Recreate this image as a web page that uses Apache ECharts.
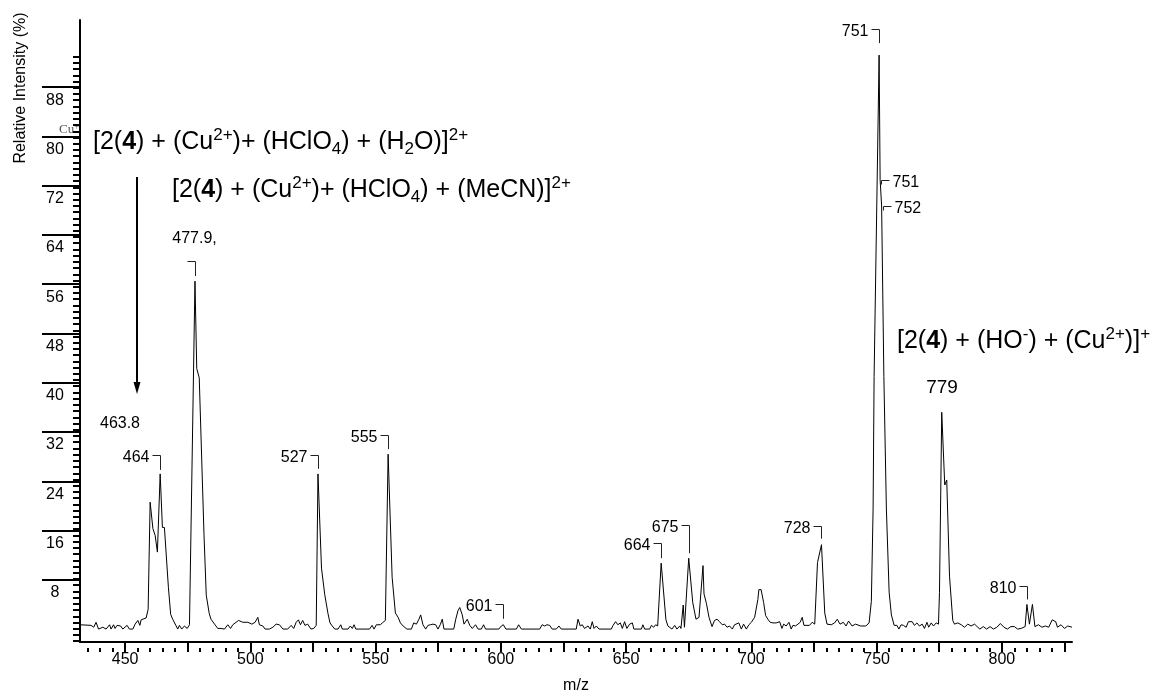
<!DOCTYPE html>
<html>
<head>
<meta charset="utf-8">
<script src="https://cdn.jsdelivr.net/npm/echarts@6/dist/echarts.min.js"></script>
<style>
  html, body { margin: 0; padding: 0; background: #fff; }
  #chart { width: 1155px; height: 699px; }
</style>
</head>
<body>
<div id="chart"></div>
<script>
// ESI mass spectrum: m/z against relative intensity (%)
const spectrum = [
  [432.0,0.7],[436.4,0.6],[437.5,0.3],[438.4,1.1],[439.4,0],[441.1,0.3],[442.4,0],[443.8,0.7],
  [444.4,0],[445.4,0.7],[446.0,0.1],[446.8,0.6],[448.2,0.5],[449.1,0],[450.8,0.6],[451.7,0],
  [453.1,0],[454.0,0.8],[455.1,1.4],[455.9,0.6],[456.4,1.5],[457.1,1.4],[458.4,1.8],[459.2,3.2],
  [460.0,20.6],[461.1,16.3],[462.0,15.2],[462.9,12.5],[464.0,25.2],[464.9,16.5],[465.7,16.5],
  [467.3,6.7],[468.2,2.4],[469.0,1.6],[470.4,0.5],[471.0,0],[471.7,0.6],[472.6,0],[473.7,0.5],
  [474.8,0.1],[475.7,0.7],[476.3,0.6],[477.9,56.5],[478.6,42.3],[479.6,40.8],[481.5,15.3],
  [482.4,5.5],[483.6,2.5],[484.3,1.6],[485.0,1.9],[485.9,0.7],[487.0,0.1],[488.3,0.1],[489.7,0],
  [491.0,0.7],[492.1,0.1],[493.0,0.7],[494.3,1.1],[495.3,1.4],[497.0,1.1],[499.0,1.1],[500.6,0.8],
  [501.9,1.1],[503.0,1.9],[503.6,0.7],[505.0,0.5],[505.9,0],[507.6,0],[509.0,0.3],[510.3,0.8],
  [511.6,0.7],[513.0,0],[514.9,0],[516.3,0.6],[517.3,0.1],[518.3,1.1],[519.2,1.5],[520.0,0.7],
  [520.9,1.4],[521.8,0.6],[522.9,0.8],[524.2,0],[525.3,0.1],[526.3,0.6],[527.0,25.2],[528.4,9.9],
  [529.7,5.6],[531.0,2.5],[531.8,1.0],[532.7,0.5],[533.7,0],[535.0,0],[536.1,0.7],[536.7,0],
  [539.0,0],[539.9,0.5],[540.7,0.1],[541.4,0.7],[542.1,0],[547.6,0],[548.6,0.6],[549.4,0],
  [550.3,0.7],[551.0,1.0],[551.9,0.7],[552.7,1.0],[553.9,1.4],[555.0,28.4],[556.6,8.4],[557.9,2.6],
  [559.0,1.9],[559.9,1.0],[561.0,0.5],[561.6,0.6],[562.5,0],[564.3,0],[565.2,1.0],[566.3,0.8],
  [567.3,1.6],[568.0,2.3],[568.9,0.7],[570.0,0],[570.9,0.6],[571.9,0.7],[572.9,0.8],[574.0,0.7],
  [574.9,0],[575.8,0.7],[576.6,1.6],[577.3,0],[581.2,0],[582.0,1.6],[582.9,3.0],[583.6,3.5],
  [584.6,2.3],[585.3,0.8],[586.0,0.7],[586.6,1.6],[587.6,0.6],[588.6,0.1],[589.9,0.7],[590.9,0],
  [592.2,0],[593.1,0.7],[593.9,0],[599.2,0],[600.2,0.5],[601.0,0.7],[602.0,0],[606.2,0],
  [607.1,0.7],[608.2,0],[615.5,0],[616.5,0.7],[617.5,0.5],[618.4,0.7],[619.5,0.6],[620.5,0],
  [622.1,0],[623.2,0.5],[624.1,0],[630.1,0],[630.8,1.6],[631.7,0.5],[632.5,0.7],[633.4,0.1],
  [634.8,0.5],[635.7,0],[636.5,1.2],[637.2,0.1],[638.1,0.5],[639.2,0],[644.1,0],[644.8,0.6],
  [645.8,1.2],[646.7,0.7],[647.7,1.0],[648.5,0.1],[649.4,1.2],[650.3,0.1],[651.4,0.8],[652.5,1.0],
  [653.1,0],[656.1,0],[656.7,0.7],[657.4,0],[659.4,0],[660.1,0.6],[661.0,0.3],[661.8,0.7],
  [662.6,0.5],[664.0,10.7],[665.9,1.5],[666.7,0.5],[667.4,0.8],[668.3,0],[669.4,0.6],[670.3,0],
  [671.4,0.5],[671.9,0.1],[672.8,3.9],[673.3,0.3],[675.0,11.5],[676.6,4.3],[677.9,1.6],[679.1,1.9],
  [680.7,10.3],[681.1,5.7],[682.1,4.1],[683.1,1.9],[684.3,0.4],[685.3,1.4],[686.3,1.6],[687.3,1.2],
  [688.4,0.7],[689.3,0.8],[690.3,0.3],[691.3,0.5],[692.4,0],[693.3,0.7],[694.0,0.5],[695.0,1.0],
  [696.0,0],[696.9,0.8],[698.0,0],[699.0,0.7],[700.0,1.1],[700.6,1.4],[701.3,1.9],[702.6,4.8],
  [703.0,6.4],[703.9,6.4],[704.9,4.3],[705.7,2.2],[706.6,1.6],[707.5,1.1],[708.6,1.0],[709.9,1.0],
  [710.6,0.7],[711.3,1.2],[712.2,0.1],[712.9,0.8],[713.9,0.5],[715.0,1.1],[715.9,0],[716.6,0.6],
  [717.6,0.5],[718.6,0.8],[719.5,1.1],[720.3,1.9],[721.0,0.6],[723.2,0.6],[724.3,1.1],[725.3,0.8],
  [726.4,10.8],[728.0,13.7],[729.3,2.6],[730.2,0.8],[731.9,0.7],[733.2,1.0],[734.3,1.6],[735.4,0.8],
  [736.7,1.1],[737.8,0.5],[738.8,1.3],[740.2,0.5],[741.6,0.8],[743.6,0.5],[745.7,0.5],[747.0,1.0],
  [747.9,4.5],[748.6,19.5],[749.0,41.0],[751.0,93.2],[751.4,73.0],[752.0,68.7],[752.9,41.0],
  [753.9,19.5],[755.0,6.0],[755.9,2.3],[757.0,0.6],[758.1,0.6],[758.9,0],[759.8,0.7],[760.7,0.6],
  [761.8,0.3],[762.7,1.2],[763.4,1.0],[764.2,1.2],[765.1,0.6],[766.1,1.0],[767.1,0.5],[768.2,0.8],
  [769.1,0.1],[770.1,1.1],[770.8,0.3],[771.8,1.0],[772.7,0.5],[773.8,1.0],[774.7,0.8],[775.1,5.9],
  [776.0,35.2],[777.2,23.4],[778.0,24.2],[779.1,8.6],[780.4,1.4],[781.1,0.8],[782.4,1.0],[783.8,0.7],
  [785.1,0.3],[786.4,0.8],[787.7,0.5],[789.1,0.8],[790.4,0.3],[791.2,0],[792.6,0.4],[793.9,0],
  [795.3,0.4],[796.6,0],[798.0,0.3],[799.4,0.9],[800.8,0.3],[802.2,0],[803.6,0.4],[805.0,0.4],
  [806.3,0],[807.7,0.1],[809.3,0.4],[810.0,4.0],[811.0,0.8],[812.2,4.0],[813.2,0.4],[814.6,0.7],
  [816.0,0.3],[817.4,0.5],[818.7,0.3],[820.1,1.5],[821.5,1.2],[822.2,0.3],[823.6,0.7],[825.0,0.1],
  [826.3,0.5],[828.0,0.3]
];

// labelled peaks (m/z of the labelled point) and decimals shown
const peakLabelMz = [464, 477.9, 527, 555, 601, 664, 675, 728, 751, 751.4, 752, 810];
const peakLabelDecimals = [0, 1, 0, 0, 0, 0, 0, 0, 0, 0, 0, 0];

// axis ticks and labels
const xLabelValues = [450, 500, 550, 600, 650, 700, 750, 800];
const xMajorTicks = [450, 475, 500, 525, 550, 575, 600, 625, 650, 675, 700, 725, 750, 775, 800, 825];
const yLabelValues = [8, 16, 24, 32, 40, 48, 56, 64, 72, 80, 88];

const X_MIN = 432, X_MAX = 828;
const Y_MIN = -2.1, Y_MAX = 98.9;

const xMinorTicks = [];
for (let v = 435; v <= 825; v += 5) xMinorTicks.push(v);
const yMinorTicks = [];
for (let v = -1; v <= 93; v += 1) yMinorTicks.push(v);

// bracket geometry for each peak label
const labelLayout = [
  { side: 'left', stem: 15, gap: 4 },
  { side: 'above', stem: 15, gap: 5, suffix: ',' },
  { side: 'left', stem: 14, gap: 5 },
  { side: 'left', stem: 14, gap: 5 },
  { side: 'left', stem: 15, gap: 6 },
  { side: 'left', stem: 15, gap: 5 },
  { side: 'left', stem: 28, gap: 5 },
  { side: 'left', stem: 13, gap: 6 },
  { side: 'left', stem: 14, gap: 12 },
  { side: 'right' },
  { side: 'right' },
  { side: 'left', stem: 13, gap: 5 }
];

const FONT = '"Liberation Sans", Arial, Helvetica, sans-serif';

function intensityAt(mz) {
  const hit = spectrum.find(d => Math.abs(d[0] - mz) < 1e-6);
  return hit ? hit[1] : 0;
}
const labelData = peakLabelMz.map((mz, i) => [mz, intensityAt(mz), i]);

function renderPeakLabel(params, api) {
  const i = api.value(2);
  const lay = labelLayout[i];
  const p = api.coord([api.value(0), api.value(1)]);
  const x = Math.round(p[0]) + 0.5;
  const txt = peakLabelMz[i].toFixed(peakLabelDecimals[i]) + (lay.suffix || '');
  const lineStyle = { stroke: '#222', lineWidth: 1, fill: null };
  const ts = (t, tx, ty, align) => ({
    text: t, x: tx, y: ty, align: align, verticalAlign: 'middle',
    textAlign: align, textVerticalAlign: 'middle',
    font: '16px ' + FONT, fill: '#000'
  });
  if (lay.side === 'right') {
    const y = Math.round(p[1]) + 0.5;
    return { type: 'group', children: [
      { type: 'polyline', shape: { points: [[x + 1, y + 4], [x + 1, y], [x + 9, y]] }, style: lineStyle },
      { type: 'text', style: ts(txt, x + 12, y + 2, 'left') }
    ]};
  }
  const yb = p[1] - lay.gap;
  const yt = Math.round(yb - lay.stem) + 0.5;
  const children = [
    { type: 'polyline', shape: { points: [[x - 8, yt], [x, yt], [x, yb]] }, style: lineStyle }
  ];
  if (lay.side === 'above') children.push({ type: 'text', style: ts(txt, x - 1, yt - 23, 'center') });
  else children.push({ type: 'text', style: ts(txt, x - 11, yt + 2, 'right') });
  return { type: 'group', children: children };
}

// rich text styles for the ion formulas
const formulaRich = {
  n: { fontSize: 25, fontFamily: FONT, color: '#000', lineHeight: 31 },
  b: { fontSize: 25, fontFamily: FONT, fontWeight: 'bold', color: '#000', lineHeight: 31 },
  sup: { fontSize: 17, fontFamily: FONT, color: '#000', lineHeight: 17, verticalAlign: 'top' },
  sub: { fontSize: 17, fontFamily: FONT, color: '#000', lineHeight: 17, verticalAlign: 'bottom' }
};
const formulaH2O = '{n|[2(}{b|4}{n|) + (Cu}{sup|2+}{n|)+ (HClO}{sub|4}{n|) + (H}{sub|2}{n|O)]}{sup|2+}';
const formulaMeCN = '{n|[2(}{b|4}{n|) + (Cu}{sup|2+}{n|)+ (HClO}{sub|4}{n|) + (MeCN)]}{sup|2+}';
const formulaHO = '{n|[2(}{b|4}{n|) + (HO}{sup|-}{n|) + (Cu}{sup|2+}{n|)]}{sup|+}';

const chart = echarts.init(document.getElementById('chart'), null, { renderer: 'canvas' });

const gridBox = { left: 80, right: 83, top: 20, bottom: 51 };

const option = {
  animation: false,
  backgroundColor: '#fff',
  grid: [
    Object.assign({ containLabel: false }, gridBox),
    Object.assign({ containLabel: false }, gridBox)
  ],
  xAxis: [
    {
      type: 'value', gridIndex: 0, min: X_MIN, max: X_MAX, position: 'bottom',
      axisLine: { show: true, onZero: false, lineStyle: { color: '#000', width: 2 } },
      axisTick: { show: true, customValues: xMajorTicks, length: 8, lineStyle: { color: '#000', width: 2 } },
      axisLabel: { show: true, customValues: xLabelValues, margin: 10, fontSize: 16, fontFamily: FONT, color: '#000' },
      splitLine: { show: false },
      name: 'm/z', nameLocation: 'middle', nameGap: 36,
      nameTextStyle: { fontSize: 16, fontFamily: FONT, color: '#000' }
    },
    {
      type: 'value', gridIndex: 1, min: X_MIN, max: X_MAX, position: 'bottom',
      axisLine: { show: false, onZero: false },
      axisTick: { show: true, customValues: xMinorTicks, length: 4, lineStyle: { color: '#000', width: 2 } },
      axisLabel: { show: false },
      splitLine: { show: false }
    }
  ],
  yAxis: [
    {
      type: 'value', gridIndex: 0, min: Y_MIN, max: Y_MAX, position: 'left',
      axisLine: { show: true, onZero: false, lineStyle: { color: '#000', width: 2 } },
      axisTick: { show: true, customValues: yLabelValues, length: 38, lineStyle: { color: '#000', width: 2 } },
      axisLabel: {
        show: true, customValues: yLabelValues, margin: 25, align: 'center', verticalAlign: 'top',
        padding: [5, 0, 0, 0], fontSize: 16, fontFamily: FONT, color: '#000'
      },
      splitLine: { show: false }
    },
    {
      type: 'value', gridIndex: 1, min: Y_MIN, max: Y_MAX, position: 'left',
      axisLine: { show: false, onZero: false },
      axisTick: { show: true, customValues: yMinorTicks, length: 7, lineStyle: { color: '#000', width: 2 } },
      axisLabel: { show: false },
      splitLine: { show: false }
    }
  ],
  series: [
    {
      type: 'line', xAxisIndex: 0, yAxisIndex: 0, data: spectrum,
      showSymbol: false, symbol: 'none', clip: true,
      lineStyle: { color: '#000', width: 1 }, z: 3
    },
    {
      type: 'custom', xAxisIndex: 0, yAxisIndex: 0, data: labelData,
      renderItem: renderPeakLabel, clip: false, silent: true, z: 4
    }
  ],
  graphic: [
    { type: 'text', x: 21, y: 88, rotation: Math.PI / 2,
      style: { text: 'Relative Intensity (%)', font: '16px ' + FONT, fill: '#000',
               align: 'center', verticalAlign: 'middle', textAlign: 'center', textVerticalAlign: 'middle' } },
    { type: 'text', x: 59, y: 130,
      style: { text: '{c|Cu}{s|+}', fill: '#555', verticalAlign: 'middle', textVerticalAlign: 'middle',
               rich: { c: { fontSize: 13, fontFamily: '"Liberation Serif", "Times New Roman", serif', color: '#555', lineHeight: 16 },
                       s: { fontSize: 9, fontFamily: '"Liberation Serif", serif', color: '#555', lineHeight: 9, verticalAlign: 'top' } } } },
    { type: 'text', x: 93, y: 142,
      style: { text: formulaH2O, rich: formulaRich, verticalAlign: 'middle', textVerticalAlign: 'middle' } },
    { type: 'text', x: 172, y: 190,
      style: { text: formulaMeCN, rich: formulaRich, verticalAlign: 'middle', textVerticalAlign: 'middle' } },
    { type: 'text', x: 897, y: 341,
      style: { text: formulaHO, rich: formulaRich, verticalAlign: 'middle', textVerticalAlign: 'middle' } },
    { type: 'text', x: 942, y: 388,
      style: { text: '779', font: '19px ' + FONT, fill: '#000', align: 'center', verticalAlign: 'middle',
               textAlign: 'center', textVerticalAlign: 'middle' } },
    { type: 'text', x: 120, y: 424,
      style: { text: '463.8', font: '16px ' + FONT, fill: '#000', align: 'center', verticalAlign: 'middle',
               textAlign: 'center', textVerticalAlign: 'middle' } },
    // arrow from the water-adduct formula down to its peak group
    { type: 'line', shape: { x1: 137, y1: 177, x2: 137, y2: 384 }, style: { stroke: '#000', lineWidth: 2 } },
    { type: 'polygon', shape: { points: [[133.5, 382], [140.5, 382], [137, 394]] }, style: { fill: '#000' } }
  ]
};

chart.setOption(option);
</script>
</body>
</html>
